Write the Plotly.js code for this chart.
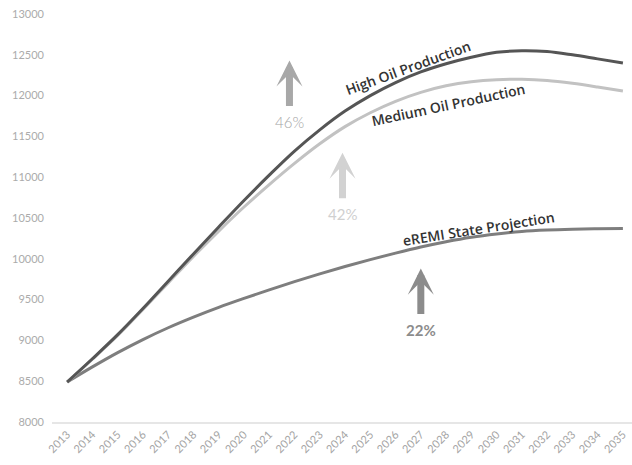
<!DOCTYPE html>
<html>
<head>
<meta charset="utf-8">
<script src="https://cdn.plot.ly/plotly-3.0.1.min.js"></script>
<style>
  html, body { margin: 0; padding: 0; background: #fff; }
  #chart { width: 632px; height: 465px; }
</style>
</head>
<body>
<div id="chart"></div>
<script>
// Projected totals by year under three scenarios
const years = [2013, 2014, 2015, 2016, 2017, 2018, 2019, 2020, 2021, 2022, 2023, 2024,
               2025, 2026, 2027, 2028, 2029, 2030, 2031, 2032, 2033, 2034, 2035];

const highOil = [8490, 8775, 9070, 9390, 9725, 10060, 10390, 10715, 11025, 11320, 11580, 11810,
                 12000, 12160, 12290, 12390, 12470, 12530, 12550, 12540, 12500, 12450, 12400];

const mediumOil = [8490, 8770, 9060, 9380, 9705, 10030, 10340, 10635, 10910, 11170, 11410, 11620,
                   11790, 11930, 12040, 12120, 12170, 12195, 12200, 12185, 12150, 12105, 12056];

const eremi = [8490, 8675, 8850, 9010, 9155, 9285, 9405, 9515, 9620, 9720, 9815, 9905,
               9990, 10070, 10145, 10210, 10265, 10305, 10335, 10352, 10362, 10368, 10372];

const yTicks = [8000, 8500, 9000, 9500, 10000, 10500, 11000, 11500, 12000, 12500, 13000];

// Growth callouts: label, year position, value at arrow tip
const growthLabels = ['46%', '42%', '22%'];
const growthYears = [2021.8, 2023.9, 2027.0];
const growthTips = [12430, 11300, 9880];

const lineStyle = (color) => ({ color: color, width: 3, shape: 'spline', smoothing: 1 });

const traces = [
  { x: years, y: eremi, mode: 'lines', line: lineStyle('#7e7e7e'), name: 'eREMI State Projection' },
  { x: years, y: mediumOil, mode: 'lines', line: lineStyle('#c2c2c2'), name: 'Medium Oil Production' },
  { x: years, y: highOil, mode: 'lines', line: lineStyle('#555555'), name: 'High Oil Production' }
];

const arrowColors = ['#a8a8a8', '#d2d2d2', '#8c8c8c'];
const pctColors = ['#a4a4a4', '#d0d0d0', '#8c8c8c'];
const pctWeights = [300, 400, 700];

const annotations = [];
for (let i = 0; i < growthLabels.length; i++) {
  annotations.push({
    x: growthYears[i], y: growthTips[i], xref: 'x', yref: 'y',
    showarrow: true, ax: 0, ay: 47, axref: 'pixel', ayref: 'pixel',
    arrowhead: 3, arrowsize: 0.62, arrowwidth: 7, arrowcolor: arrowColors[i],
    text: ''
  });
  annotations.push({
    x: growthYears[i], y: growthTips[i], xref: 'x', yref: 'y',
    yshift: -61, showarrow: false, text: growthLabels[i],
    font: { family: 'Lato, sans-serif', size: 15, color: pctColors[i], weight: pctWeights[i] }
  });
}

// Series names written along their curves
const curveLabels = [
  { text: 'High Oil Production', x: 2026.5, series: highOil, angle: -20, shift: 10 },
  { text: 'Medium Oil Production', x: 2028.1, series: mediumOil, angle: -12, shift: -19 },
  { text: 'eREMI State Projection', x: 2029.3, series: eremi, angle: -9, shift: 8 }
];
const valueAt = (series, x) => {
  const i = Math.floor(x) - years[0];
  const f = x - Math.floor(x);
  return series[i] + (series[i + 1] - series[i]) * f;
};
curveLabels.forEach(c => annotations.push({
  x: c.x, y: valueAt(c.series, c.x), xref: 'x', yref: 'y', showarrow: false,
  text: c.text, textangle: c.angle, yshift: c.shift,
  font: { family: 'Open Sans, sans-serif', size: 14, color: '#333333', weight: 600 }
}));

const layout = {
  width: 632, height: 465,
  margin: { l: 52, r: 0, t: 14, b: 43 },
  paper_bgcolor: '#ffffff', plot_bgcolor: '#ffffff',
  showlegend: false,
  xaxis: {
    range: [2012.4, 2035.36],
    tickmode: 'array', tickvals: years, ticktext: years.map(String),
    tickangle: -45, showgrid: false, zeroline: false,
    showline: true, linecolor: '#e6e6e6', linewidth: 2,
    ticks: '', tickfont: { family: 'Lato, sans-serif', size: 11, color: '#a4a4a4' }
  },
  yaxis: {
    range: [8000, 13000],
    tickmode: 'array', tickvals: yTicks, ticktext: yTicks.map(String),
    showgrid: false, zeroline: false, showline: false, ticks: '',
    ticklabelstandoff: 7,
    tickfont: { family: 'Lato, sans-serif', size: 11, color: '#ababab' }
  },
  annotations: annotations
};

Plotly.newPlot('chart', traces, layout, { displayModeBar: false, staticPlot: true });
</script>
</body>
</html>
